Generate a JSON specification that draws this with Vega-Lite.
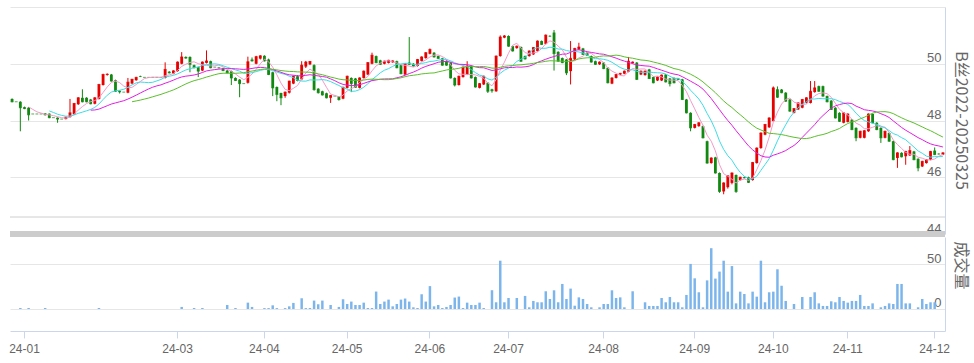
{
"$schema":"https://vega.github.io/schema/vega-lite/v6.json",
"padding":{"top":7,"left":7,"right":5,"bottom":5},
"config":{"view":{"stroke":null},"axis":{"labelFont":"Liberation Sans","labelColor":"#666666","titleColor":"#666666","gridColor":"#e6e6e6"}},
"datasets":{"k":[
{"d":"2023-12-27","o":48.76,"h":48.78,"l":48.64,"c":48.66,"v":0},
{"d":"2023-12-28","o":48.66,"h":48.66,"l":48.66,"c":48.66,"v":0},
{"d":"2023-12-29","o":48.66,"h":48.68,"l":47.62,"c":48.45,"v":1.1},
{"d":"2024-01-02","o":48.47,"h":48.49,"l":48.4,"c":48.42,"v":0},
{"d":"2024-01-03","o":48.45,"h":48.47,"l":48.0,"c":48.2,"v":1.1},
{"d":"2024-01-04","o":48.23,"h":48.23,"l":48.23,"c":48.23,"v":0},
{"d":"2024-01-05","o":48.23,"h":48.23,"l":48.23,"c":48.23,"v":0},
{"d":"2024-01-08","o":48.23,"h":48.23,"l":48.23,"c":48.23,"v":0},
{"d":"2024-01-09","o":48.25,"h":48.26,"l":48.18,"c":48.2,"v":1.1},
{"d":"2024-01-10","o":48.24,"h":48.25,"l":48.08,"c":48.1,"v":0},
{"d":"2024-01-11","o":48.1,"h":48.1,"l":48.1,"c":48.1,"v":0},
{"d":"2024-01-12","o":48.1,"h":48.11,"l":47.92,"c":48.05,"v":0},
{"d":"2024-01-15","o":48.05,"h":48.05,"l":48.05,"c":48.05,"v":0},
{"d":"2024-01-16","o":48.05,"h":48.13,"l":48.04,"c":48.12,"v":0},
{"d":"2024-01-17","o":48.12,"h":48.76,"l":48.1,"c":48.27,"v":0},
{"d":"2024-01-18","o":48.22,"h":48.62,"l":48.2,"c":48.6,"v":0},
{"d":"2024-01-19","o":48.57,"h":48.82,"l":48.55,"c":48.8,"v":0},
{"d":"2024-01-22","o":48.8,"h":49.1,"l":48.64,"c":48.66,"v":0},
{"d":"2024-01-23","o":48.8,"h":48.82,"l":48.64,"c":48.66,"v":0},
{"d":"2024-01-24","o":48.74,"h":48.76,"l":48.57,"c":48.59,"v":0},
{"d":"2024-01-25","o":48.59,"h":48.82,"l":48.57,"c":48.8,"v":0},
{"d":"2024-01-26","o":48.76,"h":49.29,"l":48.74,"c":49.27,"v":1.1},
{"d":"2024-01-29","o":49.25,"h":49.65,"l":49.23,"c":49.62,"v":0},
{"d":"2024-01-30","o":49.6,"h":49.66,"l":49.58,"c":49.63,"v":0},
{"d":"2024-01-31","o":49.62,"h":49.64,"l":49.37,"c":49.39,"v":0},
{"d":"2024-02-01","o":49.42,"h":49.44,"l":49.01,"c":49.03,"v":0},
{"d":"2024-02-02","o":49.05,"h":49.06,"l":48.95,"c":49.01,"v":0},
{"d":"2024-02-05","o":49.0,"h":49.0,"l":49.0,"c":49.0,"v":0},
{"d":"2024-02-06","o":48.98,"h":49.5,"l":48.96,"c":49.35,"v":0},
{"d":"2024-02-07","o":49.3,"h":49.47,"l":49.28,"c":49.45,"v":0},
{"d":"2024-02-08","o":49.42,"h":49.54,"l":49.4,"c":49.52,"v":0},
{"d":"2024-02-19","o":49.55,"h":49.58,"l":49.53,"c":49.55,"v":0},
{"d":"2024-02-20","o":49.52,"h":49.52,"l":49.52,"c":49.52,"v":0},
{"d":"2024-02-21","o":49.52,"h":49.52,"l":49.52,"c":49.52,"v":0},
{"d":"2024-02-22","o":49.52,"h":49.52,"l":49.52,"c":49.52,"v":0},
{"d":"2024-02-23","o":49.52,"h":49.52,"l":49.52,"c":49.52,"v":0},
{"d":"2024-02-26","o":49.52,"h":49.52,"l":49.52,"c":49.52,"v":0},
{"d":"2024-02-27","o":49.5,"h":50.05,"l":49.48,"c":49.8,"v":0},
{"d":"2024-02-28","o":49.72,"h":49.74,"l":49.66,"c":49.68,"v":0},
{"d":"2024-02-29","o":49.65,"h":49.77,"l":49.63,"c":49.75,"v":0},
{"d":"2024-03-01","o":49.74,"h":50.08,"l":49.72,"c":50.06,"v":0},
{"d":"2024-03-04","o":50.0,"h":50.41,"l":49.98,"c":50.24,"v":2.3},
{"d":"2024-03-05","o":50.24,"h":50.26,"l":50.18,"c":50.2,"v":0},
{"d":"2024-03-06","o":50.24,"h":50.26,"l":49.7,"c":49.98,"v":0},
{"d":"2024-03-07","o":49.95,"h":49.97,"l":49.84,"c":49.86,"v":1.1},
{"d":"2024-03-08","o":49.88,"h":49.9,"l":49.53,"c":49.74,"v":0},
{"d":"2024-03-11","o":49.76,"h":50.08,"l":49.74,"c":50.06,"v":1.1},
{"d":"2024-03-12","o":50.03,"h":50.47,"l":50.01,"c":50.1,"v":0},
{"d":"2024-03-13","o":50.09,"h":50.11,"l":49.84,"c":49.86,"v":0},
{"d":"2024-03-14","o":49.88,"h":49.88,"l":49.88,"c":49.88,"v":0},
{"d":"2024-03-15","o":49.86,"h":49.87,"l":49.84,"c":49.85,"v":0},
{"d":"2024-03-18","o":49.84,"h":49.86,"l":49.74,"c":49.76,"v":0},
{"d":"2024-03-19","o":49.76,"h":49.78,"l":49.66,"c":49.68,"v":4.5},
{"d":"2024-03-20","o":49.74,"h":49.76,"l":49.25,"c":49.5,"v":0},
{"d":"2024-03-21","o":49.5,"h":49.52,"l":49.39,"c":49.41,"v":1.1},
{"d":"2024-03-22","o":49.44,"h":49.46,"l":48.82,"c":49.3,"v":0},
{"d":"2024-03-25","o":49.3,"h":49.3,"l":49.3,"c":49.3,"v":0},
{"d":"2024-03-26","o":49.33,"h":50.25,"l":49.3,"c":50.07,"v":7.1},
{"d":"2024-03-27","o":50.15,"h":50.22,"l":50.08,"c":50.1,"v":2.3},
{"d":"2024-03-28","o":50.0,"h":50.28,"l":49.98,"c":50.25,"v":0},
{"d":"2024-03-29","o":50.18,"h":50.3,"l":50.15,"c":50.28,"v":0},
{"d":"2024-04-01","o":50.28,"h":50.3,"l":50.08,"c":50.1,"v":1},
{"d":"2024-04-02","o":50.15,"h":50.18,"l":49.6,"c":49.62,"v":1},
{"d":"2024-04-03","o":49.7,"h":49.72,"l":48.86,"c":49.15,"v":4.1},
{"d":"2024-04-08","o":49.18,"h":49.2,"l":48.68,"c":48.92,"v":1},
{"d":"2024-04-09","o":48.97,"h":48.98,"l":48.54,"c":48.8,"v":0},
{"d":"2024-04-10","o":48.86,"h":49.02,"l":48.8,"c":49.0,"v":1},
{"d":"2024-04-11","o":48.98,"h":49.4,"l":48.95,"c":49.39,"v":3},
{"d":"2024-04-12","o":49.3,"h":49.58,"l":49.28,"c":49.56,"v":6.8},
{"d":"2024-04-15","o":49.56,"h":49.6,"l":49.38,"c":49.41,"v":0},
{"d":"2024-04-16","o":49.45,"h":50.09,"l":49.42,"c":49.95,"v":12},
{"d":"2024-04-17","o":49.9,"h":50.1,"l":49.85,"c":50.06,"v":1},
{"d":"2024-04-18","o":49.98,"h":50.1,"l":49.95,"c":50.08,"v":1.1},
{"d":"2024-04-19","o":49.95,"h":49.98,"l":49.05,"c":49.09,"v":9.4},
{"d":"2024-04-22","o":49.12,"h":49.14,"l":48.95,"c":48.98,"v":5.3},
{"d":"2024-04-23","o":49.03,"h":49.05,"l":48.88,"c":48.9,"v":9.4},
{"d":"2024-04-24","o":48.96,"h":48.98,"l":48.78,"c":48.8,"v":0},
{"d":"2024-04-25","o":48.8,"h":48.9,"l":48.62,"c":48.88,"v":4.5},
{"d":"2024-04-26","o":48.86,"h":48.86,"l":48.86,"c":48.86,"v":0},
{"d":"2024-04-29","o":48.85,"h":48.86,"l":48.7,"c":48.74,"v":2.3},
{"d":"2024-04-30","o":48.77,"h":49.19,"l":48.75,"c":49.17,"v":10.9},
{"d":"2024-05-06","o":49.15,"h":49.58,"l":49.13,"c":49.56,"v":5.6},
{"d":"2024-05-07","o":49.5,"h":49.52,"l":49.0,"c":49.3,"v":8.3},
{"d":"2024-05-08","o":49.48,"h":49.5,"l":49.15,"c":49.17,"v":4.5},
{"d":"2024-05-09","o":49.15,"h":49.52,"l":49.13,"c":49.5,"v":4.5},
{"d":"2024-05-10","o":49.5,"h":49.76,"l":49.48,"c":49.74,"v":7.1},
{"d":"2024-05-13","o":49.62,"h":50.06,"l":49.6,"c":50.04,"v":1.1},
{"d":"2024-05-14","o":50.0,"h":50.39,"l":49.98,"c":50.3,"v":1.1},
{"d":"2024-05-15","o":50.27,"h":50.29,"l":50.02,"c":50.04,"v":19.5},
{"d":"2024-05-16","o":50.12,"h":50.14,"l":49.96,"c":49.98,"v":5.6},
{"d":"2024-05-17","o":50.0,"h":50.11,"l":49.98,"c":50.09,"v":8.3},
{"d":"2024-05-20","o":50.03,"h":50.14,"l":50.01,"c":50.12,"v":10.5},
{"d":"2024-05-21","o":50.05,"h":50.12,"l":50.03,"c":50.1,"v":3},
{"d":"2024-05-22","o":50.09,"h":50.11,"l":49.84,"c":49.86,"v":5.6},
{"d":"2024-05-23","o":49.95,"h":49.97,"l":49.63,"c":49.65,"v":10.5},
{"d":"2024-05-24","o":49.62,"h":50.02,"l":49.6,"c":50.0,"v":11.7},
{"d":"2024-05-27","o":50.04,"h":50.94,"l":49.96,"c":49.98,"v":8.3},
{"d":"2024-05-28","o":50.0,"h":50.02,"l":49.9,"c":49.92,"v":1.9},
{"d":"2024-05-29","o":49.92,"h":50.17,"l":49.9,"c":50.15,"v":1.1},
{"d":"2024-05-30","o":50.1,"h":50.26,"l":50.08,"c":50.24,"v":16.5},
{"d":"2024-05-31","o":50.2,"h":50.41,"l":50.18,"c":50.39,"v":8.3},
{"d":"2024-06-03","o":50.35,"h":50.54,"l":50.33,"c":50.5,"v":25.6},
{"d":"2024-06-04","o":50.39,"h":50.41,"l":50.22,"c":50.24,"v":3},
{"d":"2024-06-05","o":50.27,"h":50.29,"l":50.17,"c":50.19,"v":4.5},
{"d":"2024-06-06","o":50.19,"h":50.21,"l":49.93,"c":49.95,"v":1.1},
{"d":"2024-06-07","o":50.1,"h":50.12,"l":49.93,"c":49.95,"v":2.3},
{"d":"2024-06-11","o":50.04,"h":50.06,"l":49.48,"c":49.5,"v":4.5},
{"d":"2024-06-12","o":49.5,"h":49.52,"l":49.2,"c":49.25,"v":12.8},
{"d":"2024-06-13","o":49.25,"h":49.58,"l":49.23,"c":49.56,"v":13.9},
{"d":"2024-06-14","o":49.53,"h":49.9,"l":49.51,"c":49.88,"v":1.1},
{"d":"2024-06-17","o":49.62,"h":50.09,"l":49.6,"c":49.92,"v":7.1},
{"d":"2024-06-18","o":49.92,"h":49.94,"l":49.48,"c":49.5,"v":4.5},
{"d":"2024-06-19","o":49.53,"h":49.55,"l":49.16,"c":49.18,"v":4.5},
{"d":"2024-06-20","o":49.15,"h":49.32,"l":49.13,"c":49.3,"v":7.1},
{"d":"2024-06-21","o":49.27,"h":49.58,"l":49.25,"c":49.56,"v":1.1},
{"d":"2024-06-24","o":49.33,"h":49.35,"l":48.97,"c":49.03,"v":0},
{"d":"2024-06-25","o":49.1,"h":49.12,"l":48.98,"c":49.05,"v":21},
{"d":"2024-06-26","o":49.03,"h":50.29,"l":49.01,"c":50.27,"v":7.5},
{"d":"2024-06-27","o":50.27,"h":51.0,"l":50.25,"c":50.94,"v":54},
{"d":"2024-06-28","o":50.92,"h":51.01,"l":50.9,"c":50.98,"v":7.5},
{"d":"2024-07-01","o":50.98,"h":51.0,"l":50.6,"c":50.62,"v":12.3},
{"d":"2024-07-02","o":50.62,"h":50.64,"l":50.43,"c":50.45,"v":0},
{"d":"2024-07-03","o":50.55,"h":50.64,"l":50.53,"c":50.62,"v":12.3},
{"d":"2024-07-04","o":50.59,"h":50.61,"l":50.07,"c":50.09,"v":0},
{"d":"2024-07-05","o":50.27,"h":50.29,"l":50.15,"c":50.17,"v":14.6},
{"d":"2024-07-08","o":50.27,"h":50.47,"l":50.25,"c":50.45,"v":1.9},
{"d":"2024-07-09","o":50.33,"h":50.59,"l":50.31,"c":50.57,"v":9},
{"d":"2024-07-10","o":50.45,"h":50.82,"l":50.43,"c":50.8,"v":7.5},
{"d":"2024-07-11","o":50.8,"h":50.82,"l":50.66,"c":50.68,"v":7.5},
{"d":"2024-07-12","o":50.7,"h":51.03,"l":50.68,"c":51.01,"v":19.8},
{"d":"2024-07-15","o":50.97,"h":51.0,"l":50.95,"c":50.97,"v":11.2},
{"d":"2024-07-16","o":51.1,"h":51.19,"l":49.76,"c":50.36,"v":20.9},
{"d":"2024-07-17","o":50.42,"h":50.44,"l":50.07,"c":50.09,"v":7.5},
{"d":"2024-07-18","o":50.2,"h":50.22,"l":50.02,"c":50.04,"v":28},
{"d":"2024-07-19","o":50.15,"h":50.17,"l":49.6,"c":49.68,"v":11.2},
{"d":"2024-07-22","o":49.74,"h":50.8,"l":49.27,"c":50.19,"v":22.8},
{"d":"2024-07-23","o":50.15,"h":50.56,"l":50.13,"c":50.54,"v":3.7},
{"d":"2024-07-24","o":50.5,"h":50.74,"l":50.48,"c":50.59,"v":13},
{"d":"2024-07-25","o":50.54,"h":50.56,"l":50.31,"c":50.33,"v":11.2},
{"d":"2024-07-26","o":50.39,"h":50.41,"l":50.28,"c":50.3,"v":5.6},
{"d":"2024-07-29","o":50.27,"h":50.29,"l":50.04,"c":50.06,"v":1.9},
{"d":"2024-07-30","o":50.09,"h":50.11,"l":49.96,"c":49.98,"v":0},
{"d":"2024-07-31","o":49.98,"h":50.08,"l":49.96,"c":50.06,"v":1.9},
{"d":"2024-08-01","o":50.04,"h":50.06,"l":49.81,"c":49.83,"v":5.6},
{"d":"2024-08-02","o":49.86,"h":49.88,"l":49.31,"c":49.33,"v":5.6},
{"d":"2024-08-05","o":49.3,"h":49.52,"l":49.28,"c":49.5,"v":20.9},
{"d":"2024-08-06","o":49.5,"h":49.64,"l":49.48,"c":49.62,"v":12.3},
{"d":"2024-08-07","o":49.62,"h":49.68,"l":49.6,"c":49.66,"v":13},
{"d":"2024-08-08","o":49.65,"h":49.76,"l":49.63,"c":49.74,"v":1.9},
{"d":"2024-08-09","o":49.72,"h":50.24,"l":49.7,"c":50.09,"v":0},
{"d":"2024-08-12","o":50.02,"h":50.08,"l":50.0,"c":50.06,"v":19.8},
{"d":"2024-08-13","o":50.04,"h":50.06,"l":49.43,"c":49.45,"v":0},
{"d":"2024-08-14","o":49.62,"h":49.76,"l":49.6,"c":49.74,"v":0},
{"d":"2024-08-15","o":49.6,"h":49.76,"l":49.58,"c":49.74,"v":7.5},
{"d":"2024-08-16","o":49.8,"h":49.82,"l":49.46,"c":49.48,"v":3.4},
{"d":"2024-08-19","o":49.53,"h":49.55,"l":49.31,"c":49.33,"v":3.4},
{"d":"2024-08-20","o":49.41,"h":49.55,"l":49.39,"c":49.53,"v":3.4},
{"d":"2024-08-21","o":49.41,"h":49.62,"l":49.39,"c":49.6,"v":12.3},
{"d":"2024-08-22","o":49.62,"h":49.64,"l":49.34,"c":49.36,"v":7.5},
{"d":"2024-08-23","o":49.48,"h":49.5,"l":49.2,"c":49.3,"v":13.4},
{"d":"2024-08-26","o":49.5,"h":49.52,"l":49.31,"c":49.33,"v":7.5},
{"d":"2024-08-27","o":49.48,"h":49.5,"l":49.43,"c":49.45,"v":7.5},
{"d":"2024-08-28","o":49.45,"h":49.47,"l":48.72,"c":48.74,"v":1.9},
{"d":"2024-08-29","o":48.74,"h":48.76,"l":48.25,"c":48.27,"v":15.7},
{"d":"2024-08-30","o":48.27,"h":48.29,"l":47.62,"c":47.74,"v":50.4},
{"d":"2024-09-02","o":47.74,"h":47.88,"l":47.72,"c":47.86,"v":34.3},
{"d":"2024-09-03","o":47.8,"h":47.94,"l":47.78,"c":47.92,"v":18.7},
{"d":"2024-09-04","o":47.8,"h":47.82,"l":47.37,"c":47.39,"v":1.9},
{"d":"2024-09-05","o":47.27,"h":47.29,"l":46.48,"c":46.5,"v":32},
{"d":"2024-09-06","o":46.5,"h":46.7,"l":46.48,"c":46.68,"v":68},
{"d":"2024-09-09","o":46.7,"h":46.72,"l":46.13,"c":46.15,"v":34},
{"d":"2024-09-10","o":46.15,"h":46.17,"l":45.45,"c":45.5,"v":41.8},
{"d":"2024-09-11","o":45.5,"h":45.82,"l":45.4,"c":45.8,"v":54},
{"d":"2024-09-12","o":45.65,"h":46.07,"l":45.6,"c":46.05,"v":19.4},
{"d":"2024-09-13","o":45.8,"h":46.17,"l":45.75,"c":46.15,"v":48},
{"d":"2024-09-18","o":46.08,"h":46.1,"l":45.45,"c":45.5,"v":6.3},
{"d":"2024-09-19","o":45.9,"h":46.02,"l":45.88,"c":46.0,"v":19.4},
{"d":"2024-09-20","o":46.0,"h":46.02,"l":45.96,"c":45.98,"v":16.8},
{"d":"2024-09-23","o":46.0,"h":46.02,"l":45.8,"c":45.82,"v":6.3},
{"d":"2024-09-24","o":45.9,"h":46.54,"l":45.88,"c":46.52,"v":19.4},
{"d":"2024-09-25","o":46.5,"h":47.05,"l":46.48,"c":47.03,"v":13.8},
{"d":"2024-09-26","o":47.03,"h":47.58,"l":47.0,"c":47.56,"v":54},
{"d":"2024-09-27","o":47.5,"h":47.88,"l":47.48,"c":47.86,"v":7.5},
{"d":"2024-09-30","o":47.76,"h":48.11,"l":47.74,"c":48.09,"v":18.7},
{"d":"2024-10-08","o":47.98,"h":49.2,"l":47.96,"c":49.15,"v":19.4},
{"d":"2024-10-09","o":49.1,"h":49.2,"l":48.8,"c":48.82,"v":44.4},
{"d":"2024-10-10","o":49.09,"h":49.11,"l":48.96,"c":48.98,"v":26},
{"d":"2024-10-11","o":48.98,"h":49.0,"l":48.66,"c":48.68,"v":9},
{"d":"2024-10-14","o":48.74,"h":48.76,"l":48.31,"c":48.33,"v":0},
{"d":"2024-10-15","o":48.27,"h":48.44,"l":48.25,"c":48.42,"v":5.6},
{"d":"2024-10-16","o":48.39,"h":48.64,"l":48.37,"c":48.62,"v":0},
{"d":"2024-10-17","o":48.45,"h":48.76,"l":48.43,"c":48.74,"v":13.4},
{"d":"2024-10-18","o":48.62,"h":48.82,"l":48.6,"c":48.8,"v":0},
{"d":"2024-10-21","o":48.62,"h":49.39,"l":48.6,"c":49.03,"v":13.4},
{"d":"2024-10-22","o":49.0,"h":49.39,"l":48.98,"c":49.15,"v":18.7},
{"d":"2024-10-23","o":49.21,"h":49.23,"l":49.01,"c":49.03,"v":6.3},
{"d":"2024-10-24","o":49.21,"h":49.23,"l":48.84,"c":48.86,"v":3.4},
{"d":"2024-10-25","o":48.86,"h":48.88,"l":48.64,"c":48.66,"v":3.4},
{"d":"2024-10-28","o":48.7,"h":48.72,"l":48.37,"c":48.39,"v":8.6},
{"d":"2024-10-29","o":48.45,"h":48.47,"l":48.07,"c":48.09,"v":7.5},
{"d":"2024-10-30","o":48.27,"h":48.29,"l":47.95,"c":47.97,"v":13.4},
{"d":"2024-10-31","o":47.92,"h":48.29,"l":47.9,"c":48.27,"v":9},
{"d":"2024-11-01","o":47.95,"h":48.25,"l":47.93,"c":48.23,"v":7.1},
{"d":"2024-11-04","o":48.03,"h":48.05,"l":47.66,"c":47.68,"v":9},
{"d":"2024-11-05","o":47.74,"h":47.76,"l":47.27,"c":47.39,"v":9},
{"d":"2024-11-06","o":47.39,"h":47.64,"l":47.37,"c":47.62,"v":15.7},
{"d":"2024-11-07","o":47.39,"h":47.66,"l":47.37,"c":47.64,"v":3.4},
{"d":"2024-11-08","o":47.62,"h":48.25,"l":47.6,"c":48.23,"v":3.4},
{"d":"2024-11-11","o":48.23,"h":48.25,"l":47.9,"c":47.92,"v":6.3},
{"d":"2024-11-12","o":47.92,"h":47.94,"l":47.66,"c":47.68,"v":0},
{"d":"2024-11-13","o":47.74,"h":47.76,"l":47.21,"c":47.39,"v":1.9},
{"d":"2024-11-14","o":47.39,"h":47.64,"l":47.37,"c":47.62,"v":3.4},
{"d":"2024-11-15","o":47.56,"h":47.58,"l":47.25,"c":47.27,"v":6.3},
{"d":"2024-11-18","o":47.27,"h":47.29,"l":46.6,"c":46.62,"v":5.6},
{"d":"2024-11-19","o":46.68,"h":46.88,"l":46.33,"c":46.86,"v":28},
{"d":"2024-11-20","o":46.86,"h":46.88,"l":46.7,"c":46.72,"v":28},
{"d":"2024-11-21","o":46.74,"h":46.93,"l":46.44,"c":46.91,"v":6.3},
{"d":"2024-11-22","o":46.77,"h":47.1,"l":46.75,"c":46.94,"v":6.3},
{"d":"2024-11-25","o":46.91,"h":46.93,"l":46.6,"c":46.62,"v":0},
{"d":"2024-11-26","o":46.65,"h":46.67,"l":46.21,"c":46.33,"v":1.9},
{"d":"2024-11-27","o":46.38,"h":46.58,"l":46.36,"c":46.56,"v":11.2},
{"d":"2024-11-28","o":46.5,"h":46.64,"l":46.48,"c":46.62,"v":5.6},
{"d":"2024-11-29","o":46.62,"h":46.93,"l":46.6,"c":46.91,"v":7.5},
{"d":"2024-12-02","o":46.94,"h":47.05,"l":46.78,"c":46.8,"v":7.5},
{"d":"2024-12-03","o":46.82,"h":46.84,"l":46.8,"c":46.82,"v":0},
{"d":"2024-12-04","o":46.8,"h":46.88,"l":46.78,"c":46.86,"v":0}
]},
"spacing":3,
"bounds":"flush",
"vconcat":[
{
"width":935,"height":227,
"data":{"name":"k"},
"layer":[
{"mark":{"type":"rule","color":"#e6e6e6","strokeWidth":1},"encoding":{"y":{"datum":44.6,"type":"quantitative","scale":{"domain":[44,52],"nice":false,"zero":false}}}},
{"mark":{"type":"rule","strokeWidth":1},
 "encoding":{
  "x":{"field":"d","type":"ordinal","axis":null,"scale":{"type":"band","paddingInner":0,"paddingOuter":0}},
  "y":{"field":"l","type":"quantitative","scale":{"domain":[44,52],"nice":false,"zero":false},
   "axis":{"orient":"right","values":[44,46,48,50,52],"grid":true,"ticks":false,"tickSize":0,"domain":true,"domainColor":"#ccd6eb","labelAlign":"right","labelPadding":-4,"labelBaseline":"alphabetic","labelOffset":-2,"labelFontSize":13,"labelExpr":"datum.value == 52 ? '' : datum.label","title":"B丝2022-20250325","titleAngle":90,"titleX":15,"titleY":113,"titleAlign":"center","titleBaseline":"middle","titleFont":"Noto Sans CJK SC","titleFontSize":16,"titleFontWeight":"normal"}},
  "y2":{"field":"h"},
  "color":{"condition":{"test":"datum.c > datum.o","value":"#e60000"},"value":"#118811"}}},
{"mark":{"type":"bar","width":{"band":0.68}},
 "encoding":{"x":{"field":"d","type":"ordinal"},"y":{"field":"o","type":"quantitative"},"y2":{"field":"c"},
  "color":{"condition":{"test":"datum.c > datum.o","value":"#e60000"},"value":"#118811"}}},
{"mark":{"type":"tick","orient":"horizontal","thickness":1,"size":2.8},
 "encoding":{"x":{"field":"d","type":"ordinal"},"y":{"field":"c","type":"quantitative"},
  "color":{"condition":{"test":"datum.c > datum.o","value":"#e60000"},"value":"#118811"}}},
{"transform":[{"window":[{"op":"mean","field":"c","as":"ma"},{"op":"count","as":"n"}],"frame":[-4,0],"sort":[{"field":"d"}]},{"filter":"datum.n >= 5"}],
 "mark":{"type":"line","color":"#f49ac8","strokeWidth":1},
 "encoding":{"x":{"field":"d","type":"ordinal"},"y":{"field":"ma","type":"quantitative"}}},
{"transform":[{"window":[{"op":"mean","field":"c","as":"ma"},{"op":"count","as":"n"}],"frame":[-9,0],"sort":[{"field":"d"}]},{"filter":"datum.n >= 10"}],
 "mark":{"type":"line","color":"#3cdde6","strokeWidth":1},
 "encoding":{"x":{"field":"d","type":"ordinal"},"y":{"field":"ma","type":"quantitative"}}},
{"transform":[{"window":[{"op":"mean","field":"c","as":"ma"},{"op":"count","as":"n"}],"frame":[-19,0],"sort":[{"field":"d"}]},{"filter":"datum.n >= 20"}],
 "mark":{"type":"line","color":"#e21fe2","strokeWidth":1},
 "encoding":{"x":{"field":"d","type":"ordinal"},"y":{"field":"ma","type":"quantitative"}}},
{"transform":[{"window":[{"op":"mean","field":"c","as":"ma"},{"op":"count","as":"n"}],"frame":[-29,0],"sort":[{"field":"d"}]},{"filter":"datum.n >= 30"}],
 "mark":{"type":"line","color":"#5cbf2c","strokeWidth":1},
 "encoding":{"x":{"field":"d","type":"ordinal"},"y":{"field":"ma","type":"quantitative"}}},
{"mark":{"type":"rule","color":"#cccccc","strokeWidth":5},"encoding":{"y":{"datum":44,"type":"quantitative"}}}
]
},
{
"width":935,"height":94,
"data":{"name":"k"},
"mark":{"type":"bar","width":{"band":0.6},"color":"#7cb5ec"},
"encoding":{
 "x":{"field":"d","type":"ordinal","scale":{"type":"band","paddingInner":0,"paddingOuter":0},
  "axis":{"values":["2024-01-02","2024-03-01","2024-04-01","2024-05-06","2024-06-03","2024-07-01","2024-08-01","2024-09-02","2024-10-08","2024-11-01","2024-12-02"],"labelExpr":"slice(datum.value, 2, 7)","labelAngle":0,"title":null,"grid":false,"domainColor":"#ccd6eb","tickColor":"#ccd6eb","tickSize":7,"labelPadding":5,"labelFontSize":12}},
 "y":{"field":"v","type":"quantitative","scale":{"domain":[-24.6,80.5],"nice":false,"zero":false},
  "axis":{"orient":"right","values":[0,50],"grid":true,"ticks":false,"tickSize":0,"domain":true,"domainColor":"#ccd6eb","labelAlign":"right","labelPadding":-4,"labelBaseline":"alphabetic","labelOffset":-2,"labelFontSize":13,"title":"成交量","titleAngle":90,"titleX":15,"titleY":28,"titleAlign":"center","titleBaseline":"middle","titleFont":"Noto Sans CJK SC","titleFontSize":16,"titleFontWeight":"normal"}},
 "y2":{"datum":0}
}
}
]
}
